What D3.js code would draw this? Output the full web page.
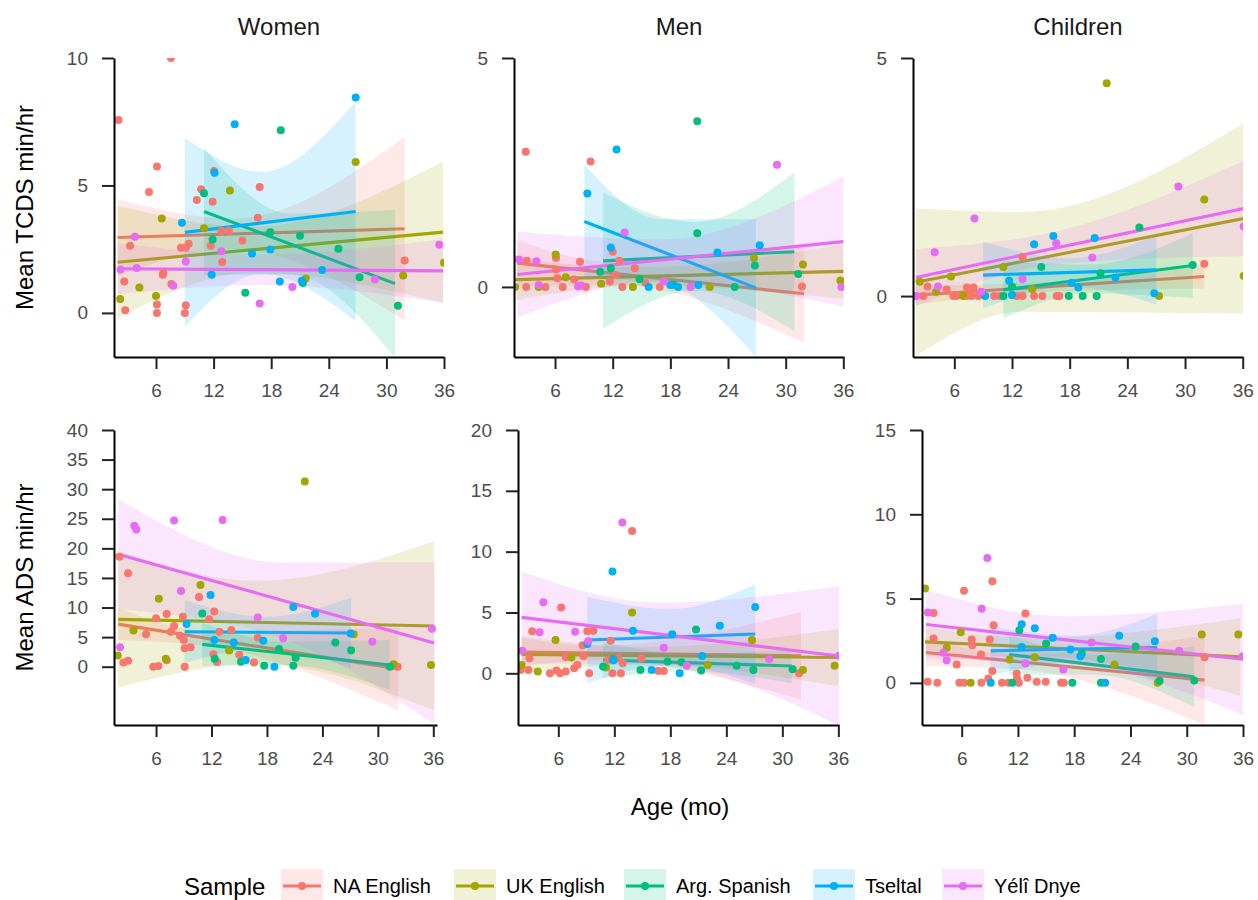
<!DOCTYPE html>
<html><head><meta charset="utf-8">
<script src="https://cdn.jsdelivr.net/npm/d3@7"></script>
<style>body{margin:0;background:#fff}svg{display:block}</style>
</head><body>
<script>
// ---------- data ----------
const samples = ["NA English","UK English","Arg. Spanish","Tseltal","Yélî Dnye"];
const colors  = ["#F8766D","#A3A500","#00BF7D","#00B0F6","#E76BF3"];
const speakers = ["Women","Men","Children"];
const yTitles = ["Mean TCDS min/hr","Mean ADS min/hr"];
const xTicks = [6,12,18,24,30,36];
const yTicksTCDSWomen = [0,5,10];
const yTicksTCDSMen = [0,5];
const yTicksTCDSChildren = [0,5];
const yTicksADSWomen = [0,5,10,15,20,25,30,35,40];
const yTicksADSMen = [0,5,10,15,20];
const yTicksADSChildren = [0,5,10,15];

// points: [sample index, age (mo), value]
const ptsTCDSWomen = [
[0,2.1,7.57],[0,7.56,10],[0,6.1,5.74],[0,5.27,4.74],[0,3.3,2.63],[0,2.7,1.23],[0,2.8,0.1],[0,6.1,0.33],[0,6.1,0],[0,6.7,1.5],[0,6.76,1.57],[0,7.6,1.13],[0,8.6,2.56],[0,9.1,2.56],[0,9.4,2.71],[0,9.1,0.3],[0,9.0,0],[0,10.25,4.43],[0,10.7,4.85],[0,11.9,4.36],[0,12.05,5.57],[0,11.7,2.63],[0,12.9,2.0],[0,12.8,3.22],[0,13.6,3.22],[0,15.0,2.84],[0,16.8,4.94],[0,16.6,3.73],[0,31.9,2.06],
[1,2.27,0.55],[1,4.27,1.0],[1,6.0,0.66],[1,6.6,3.7],[1,11.0,3.32],[1,13.7,4.8],[1,21.6,1.35],[1,26.8,5.92],[1,31.75,1.47],[1,36.0,1.97],
[2,11.0,4.69],[2,11.9,2.88],[2,15.3,0.79],[2,17.9,3.16],[2,19.0,7.17],[2,21.0,3.03],[2,21.3,1.17],[2,25.0,2.52],[2,27.2,1.4],[2,31.2,0.28],
[3,8.7,3.54],[3,12.1,5.5],[3,11.8,1.5],[3,14.2,7.4],[3,16.0,2.33],[3,17.9,2.49],[3,18.9,1.23],[3,21.2,1.26],[3,23.3,1.68],[3,26.8,8.45],
[4,2.3,1.7],[4,3.8,2.99],[4,4.0,1.76],[4,7.8,1.07],[4,9.1,2.02],[4,12.8,2.42],[4,16.8,0.37],[4,20.2,1.02],[4,28.8,1.31],[4,35.5,2.67]
];
const ptsTCDSMen = [
[0,2.95,2.95],[0,9.7,2.74],[0,3.05,0.57],[0,3.0,0],[0,5.0,0],[0,6.1,0.63],[0,6.1,0.38],[0,6.25,0.19],[0,6.8,0],[0,8.0,0.16],[0,8.6,0.55],[0,9.2,0],[0,12.0,0.77],[0,12.7,0.57],[0,12.3,0.26],[0,11.7,0.12],[0,13.0,0],[0,14.3,0.41],[0,15.4,0.09],[0,16.9,0],[0,31.7,0.01],
[1,1.84,0],[1,4.3,0],[1,6.07,0.71],[1,7.1,0.21],[1,10.8,0.07],[1,14.1,0],[1,22.1,0],[1,26.7,0.63],[1,31.8,0.49],[1,35.7,0.14],
[2,10.7,0.33],[2,11.8,0.41],[2,14.8,0.17],[2,18.35,0.05],[2,20.8,3.62],[2,20.8,1.17],[2,24.7,0],[2,26.8,0.47],[2,31.3,0.28],
[3,9.36,2.04],[3,12.4,3.0],[3,11.8,0.86],[3,15.75,0],[3,18.0,0.04],[3,18.8,0],[3,20.9,0.04],[3,22.9,0.75],[3,27.3,0.91],
[4,2.25,0.6],[4,4.06,0.56],[4,4.3,0.04],[4,8.4,0.01],[4,8.7,0.03],[4,13.25,1.19],[4,17.3,0.12],[4,20.1,0],[4,29.1,2.67],[4,35.8,0]
];
const ptsTCDSChildren = [
[0,1.98,0],[0,2.77,0],[0,5.9,0],[0,6.24,0],[0,7.28,0],[0,7.8,0],[0,8.5,0],[0,10.16,0],[0,10.75,0],[0,12.49,0],[0,13.1,0],[0,14.3,0],[0,15.16,0],[0,16.65,0],[0,16.93,0],[0,3.2,0.2],[0,5.2,0.14],[0,7.3,0.18],[0,8.0,0.18],[0,13.1,0.82],[0,32.0,0.68],
[1,2.4,0.3],[1,4.1,0.09],[1,5.65,0.41],[1,6.9,0],[1,11.1,0.61],[1,14.1,0.15],[1,21.85,4.47],[1,27.3,0],[1,32.0,2.03],[1,36.1,0.42],
[2,11.1,0],[2,12.0,0.2],[2,15.05,0.61],[2,17.9,0],[2,19.35,0],[2,20.8,0],[2,21.2,0.48],[2,25.25,1.44],[2,30.8,0.65],
[3,9.2,0],[3,12.0,0.02],[3,11.7,0.32],[3,14.3,1.09],[3,16.3,1.26],[3,18.2,0.28],[3,18.9,0.18],[3,20.6,1.22],[3,22.75,0.39],[3,26.8,0.06],
[4,2.0,0],[4,3.95,0.92],[4,4.3,0.2],[4,8.1,1.63],[4,8.8,0.09],[4,13.1,0.36],[4,16.6,1.11],[4,20.35,0.81],[4,29.3,2.3],[4,36.1,1.46]
];
const ptsADSWomen = [
[0,2.03,18.6],[0,2.97,15.8],[0,2.47,0.73],[0,2.97,1.0],[0,4.92,5.5],[0,6.0,8.2],[0,5.7,0],[0,6.25,0.1],[0,7.15,8.9],[0,7.6,5.9],[0,7.95,6.9],[0,7.15,1.1],[0,8.9,8.45],[0,8.6,5.24],[0,9.0,4.5],[0,9.1,3.1],[0,9.75,3.27],[0,9.1,0],[0,10.65,11.8],[0,12.3,9.35],[0,11.75,8.0],[0,12.85,5.9],[0,14.15,6.2],[0,12.2,2.1],[0,12.6,0.8],[0,15.0,2.0],[0,16.6,0.73],[0,17.0,4.9],[0,32.15,0],
[1,1.85,1.9],[1,3.55,6.1],[1,6.3,11.5],[1,7.05,1.35],[1,10.8,13.8],[1,13.9,2.76],[1,22.1,31.3],[1,27.4,5.5],[1,31.7,0.4],[1,35.75,0.28],
[2,11.0,9.0],[2,12.35,1.35],[2,15.2,0.85],[2,17.7,0.17],[2,19.3,3.0],[2,20.85,0.17],[2,21.1,1.5],[2,25.4,4.1],[2,27.1,2.8],[2,31.3,0],
[3,9.3,7.2],[3,11.9,12.1],[3,12.3,4.5],[3,14.4,4.1],[3,15.7,1.13],[3,17.6,4.4],[3,18.8,0],[3,20.85,10.1],[3,23.2,8.96],[3,27.06,5.6],
[4,2.1,3.3],[4,3.65,23.8],[4,3.87,23.2],[4,7.95,24.7],[4,8.7,12.8],[4,13.2,24.8],[4,17.0,8.3],[4,19.75,4.8],[4,29.4,4.2],[4,35.85,6.4]
];
const ptsADSMen = [
[0,1.96,0.27],[0,2.9,1.23],[0,3.2,3.45],[0,2.8,0.27],[0,5.1,0],[0,5.8,0.22],[0,6.3,5.4],[0,6.2,0],[0,6.8,0.14],[0,6.8,1.34],[0,7.7,0.41],[0,8.04,0.68],[0,8.7,1.42],[0,8.6,2.3],[0,9.1,3.45],[0,9.75,3.5],[0,9.3,0],[0,11.6,2.68],[0,11.35,1.12],[0,12.4,1.23],[0,11.8,0],[0,12.7,0],[0,12.9,0.82],[0,13.9,11.7],[0,14.9,1.23],[0,16.7,0.19],[0,17.3,0.19],[0,31.8,0],
[1,2.07,0.68],[1,3.8,0.14],[1,5.7,2.74],[1,7.4,1.3],[1,11.1,0.47],[1,13.9,5.0],[1,22.0,0.68],[1,26.75,2.74],[1,32.2,0.27],[1,35.6,0.63],
[2,10.8,0.55],[2,11.9,1.15],[2,14.8,0.27],[2,17.7,0.96],[2,19.2,0.9],[2,20.75,3.6],[2,21.3,0.22],[2,25.1,0.63],[2,26.9,0.27],[2,31.1,0.33],
[3,9.1,2.4],[3,11.8,8.36],[3,11.9,1.07],[3,14.0,3.5],[3,16.0,0.27],[3,18.2,3.2],[3,19.0,0],[3,21.4,1.42],[3,23.3,3.9],[3,27.1,5.45],
[4,2.14,1.86],[4,4.4,5.84],[4,4.0,3.37],[4,7.8,3.42],[4,9.2,2.63],[4,12.86,12.4],[4,17.3,2.1],[4,19.75,0.63],[4,28.6,1.18],[4,36.1,1.45]
];
const ptsADSChildren = [
[0,2.38,0.06],[0,3.4,0],[0,3.0,4.15],[0,3.0,2.63],[0,5.47,1.09],[0,5.75,0],[0,6.25,0],[0,6.25,5.47],[0,7.07,2.57],[0,7.14,2.23],[0,8.06,1.68],[0,8.1,0],[0,8.84,0.26],[0,9.0,2.57],[0,9.27,6.03],[0,9.4,3.42],[0,9.27,0.71],[0,10.3,0],[0,11.0,0],[0,11.86,0.55],[0,11.9,0.26],[0,12.1,0],[0,12.8,4.11],[0,13.0,0.3],[0,14.0,0.06],[0,14.96,0.06],[0,16.6,0],[0,16.9,0],[0,31.9,1.52],
[1,2.1,5.6],[1,4.4,2.08],[1,5.9,3.0],[1,6.96,0],[1,11.1,1.38],[1,13.8,1.52],[1,22.3,1.09],[1,26.9,0],[1,31.6,2.87],[1,35.5,2.87],
[2,11.4,0],[2,12.15,3.12],[2,15.0,2.33],[2,17.8,0],[2,18.8,1.74],[2,20.85,1.42],[2,20.85,0],[2,24.55,2.15],[2,27.1,0.12],[2,30.8,0.14],
[3,9.1,0],[3,12.4,3.48],[3,12.4,2.13],[3,13.8,3.24],[3,15.7,2.67],[3,17.6,1.98],[3,18.65,1.58],[3,21.3,0],[3,22.8,2.79],[3,26.6,2.47],
[4,2.4,4.17],[4,4.05,1.78],[4,4.4,1.34],[4,8.13,4.39],[4,8.74,7.41],[4,12.8,1.15],[4,16.84,0.79],[4,19.86,2.39],[4,29.2,1.9],[4,35.96,1.58]
];

// linear fits:
// [sample, x start, x end, fit at start, fit at end, x of narrowest band, half-width start, half-width narrowest, half-width end]
const fitTCDSWomen = [
[0,2.0,31.9,2.96,3.30,14,1.5,0.6,3.6],
[1,2.0,35.9,1.99,3.17,16,2.2,0.9,2.77],
[2,11.0,30.9,3.98,1.15,20,2.5,1.2,2.9],
[3,9.0,26.8,3.16,3.98,17,3.7,2.0,4.3],
[4,2.0,35.9,1.73,1.65,17,1.0,0.6,1.25]
];
const fitTCDSMen = [
[0,2.08,31.9,0.52,-0.15,12,0.5,0.25,1.07],
[1,1.84,36.0,0.16,0.34,15,0.45,0.2,0.6],
[2,11.0,30.9,0.57,0.77,20.5,1.49,0.75,1.73],
[3,9.05,26.9,1.43,-0.02,17,1.24,0.7,1.5],
[4,2.08,36.0,0.27,0.99,17,0.94,0.45,1.42]
];
const fitTCDSChildren = [
[0,2.0,32.0,0.02,0.41,14,0.2,0.1,0.25],
[1,2.0,36.1,0.29,1.63,13,1.55,1.05,2.0],
[2,11.1,30.8,0.13,0.64,20,0.6,0.3,0.68],
[3,9.0,27.0,0.44,0.55,18,0.7,0.3,0.72],
[4,2.0,36.1,0.39,1.84,17,0.6,0.35,1.0]
];
const fitADSWomen = [
[0,1.9,32.2,7.2,-0.4,12,2.7,1.3,7.0],
[1,1.9,36.1,8.0,6.88,17,11.5,7.0,14.3],
[2,11.0,31.3,3.78,0.3,20,3.6,2.0,4.2],
[3,9.1,27.1,5.92,5.7,18,5.3,2.6,6.0],
[4,1.9,36.1,19.0,4.0,20,9.3,6.5,13.7]
];
const fitADSMen = [
[0,2.07,32.0,1.75,1.43,10,1.2,0.6,3.6],
[1,2.07,36.0,1.55,1.30,15,1.5,0.7,2.35],
[2,10.8,31.0,1.09,0.60,20,1.5,0.7,1.42],
[3,9.1,27.1,2.74,3.23,18,3.55,2.3,4.1],
[4,2.07,36.1,4.60,1.42,17,3.75,2.6,5.75]
];
const fitADSChildren = [
[0,2.2,31.9,1.80,0.16,12,0.8,0.45,2.65],
[1,2.1,35.7,2.43,1.54,14,0.85,0.55,2.3],
[2,11.07,30.8,1.68,0.36,20,1.2,0.6,1.8],
[3,9.1,26.85,1.90,2.10,18,1.45,0.8,2.0],
[4,2.2,36.0,3.46,1.40,17,2.05,1.4,3.3]
];

// ---------- layout ----------
const FONT = "'Liberation Sans', Arial, Helvetica, sans-serif";
const W = 1258, H = 900;
const panels = [
 {row:0, col:0, xr:[114,444], xd:[1.625,36], yr:[357,58], yd:[-1.73,10], yt:yTicksTCDSWomen, pts:ptsTCDSWomen, fits:fitTCDSWomen},
 {row:0, col:1, xr:[514,844], xd:[1.73,36.07], yr:[357,58], yd:[-1.53,5], yt:yTicksTCDSMen, pts:ptsTCDSMen, fits:fitTCDSMen},
 {row:0, col:2, xr:[913,1243], xd:[1.7,36.03], yr:[357,58], yd:[-1.28,5], yt:yTicksTCDSChildren, pts:ptsTCDSChildren, fits:fitTCDSChildren},
 {row:1, col:0, xr:[114,437], xd:[1.45,36.4], yr:[725,430], yd:[-9.85,40], yt:yTicksADSWomen, pts:ptsADSWomen, fits:fitADSWomen},
 {row:1, col:1, xr:[518,839], xd:[1.68,36.07], yr:[725,430], yd:[-4.25,20], yt:yTicksADSMen, pts:ptsADSMen, fits:fitADSMen},
 {row:1, col:2, xr:[922,1243], xd:[1.77,36.0], yr:[725,430], yd:[-2.5,15], yt:yTicksADSChildren, pts:ptsADSChildren, fits:fitADSChildren}
];

const svg = d3.select("body").append("svg").attr("width", W).attr("height", H)
  .style("font-family", FONT);
const defs = svg.append("defs");
const RIB_ALPHA = 0.16;
const LINE_W = 3.1;
const PT_R = 4;

panels.forEach((p, i) => {
  const x = d3.scaleLinear().domain(p.xd).range(p.xr);
  const y = d3.scaleLinear().domain(p.yd).range(p.yr);
  defs.append("clipPath").attr("id", "clip" + i).append("rect")
    .attr("x", p.xr[0]).attr("y", p.yr[1])
    .attr("width", p.xr[1] - p.xr[0]).attr("height", p.yr[0] - p.yr[1]);
  const g = svg.append("g").attr("clip-path", `url(#clip${i})`);

  const area = d3.area().x(d => x(d[0])).y0(d => y(d[1])).y1(d => y(d[2])).curve(d3.curveMonotoneX);
  const line = d3.line().x(d => x(d[0])).y(d => y(d[1]));
  p.fits.forEach(f => {
    const [s, x0, x1, y0, y1, xm, h0, hm, h1] = f;
    const ym = y0 + (y1 - y0) * (xm - x0) / (x1 - x0);
    const band = [[x0, y0 - h0, y0 + h0], [xm, ym - hm, ym + hm], [x1, y1 - h1, y1 + h1]];
    g.append("path").attr("d", area(band)).attr("fill", colors[s]).attr("fill-opacity", RIB_ALPHA);
    g.append("path").attr("d", line([[x0, y0], [x1, y1]])).attr("stroke", colors[s])
      .attr("stroke-width", LINE_W).attr("fill", "none");
  });
  g.selectAll("circle.pt").data(p.pts).join("circle").attr("class", "pt")
    .attr("cx", d => x(d[1])).attr("cy", d => y(d[2])).attr("r", PT_R)
    .attr("fill", d => colors[d[0]]);

  // axes
  const ax = svg.append("g").attr("transform", `translate(${p.xr[0]},0)`)
    .call(d3.axisLeft(y).tickValues(p.yt).tickFormat(d3.format("d")).tickSize(12).tickPadding(14).tickSizeOuter(0));
  const bx = svg.append("g").attr("transform", `translate(0,${p.yr[0]})`)
    .call(d3.axisBottom(x).tickValues(xTicks).tickFormat(d3.format("d")).tickSize(12).tickPadding(15).tickSizeOuter(0));
  [ax, bx].forEach(a => {
    a.select(".domain").attr("stroke", "#000").attr("stroke-width", 2);
    a.selectAll(".tick line").attr("stroke", "#222").attr("stroke-width", 2);
    a.selectAll(".tick text").attr("fill", "#4D4D4D").style("font-size", "19px").style("font-family", FONT);
  });

  if (p.row === 0) {
    svg.append("text").attr("x", (p.xr[0] + p.xr[1]) / 2).attr("y", 35)
      .attr("text-anchor", "middle").style("font-size", "24px").attr("fill", "#1a1a1a")
      .text(speakers[p.col]);
  }
});

// y titles
[[207.5, 0], [577.5, 1]].forEach(([cy, r]) => {
  svg.append("text").attr("transform", `translate(33,${cy}) rotate(-90)`)
    .attr("text-anchor", "middle").style("font-size", "24px").attr("fill", "#000")
    .text(yTitles[r]);
});
// x title
svg.append("text").attr("x", 680).attr("y", 815).attr("text-anchor", "middle")
  .style("font-size", "24px").attr("fill", "#000").text("Age (mo)");

// legend
const legY = 886;
svg.append("text").attr("x", 184).attr("y", legY + 8.5).style("font-size", "24px").attr("fill", "#000").text("Sample");
const keyX = [281, 454, 624, 813, 942];
samples.forEach((s, i) => {
  const kx = keyX[i];
  const k = svg.append("g");
  k.append("rect").attr("x", kx).attr("y", legY - 17).attr("width", 42).attr("height", 34)
    .attr("fill", colors[i]).attr("fill-opacity", RIB_ALPHA);
  k.append("line").attr("x1", kx + 2).attr("x2", kx + 40).attr("y1", legY).attr("y2", legY)
    .attr("stroke", colors[i]).attr("stroke-width", LINE_W);
  k.append("circle").attr("cx", kx + 21).attr("cy", legY).attr("r", PT_R).attr("fill", colors[i]);
  svg.append("text").attr("x", kx + 52).attr("y", legY + 7).style("font-size", "20px").attr("fill", "#000").text(s);
});
</script>
</body></html>
